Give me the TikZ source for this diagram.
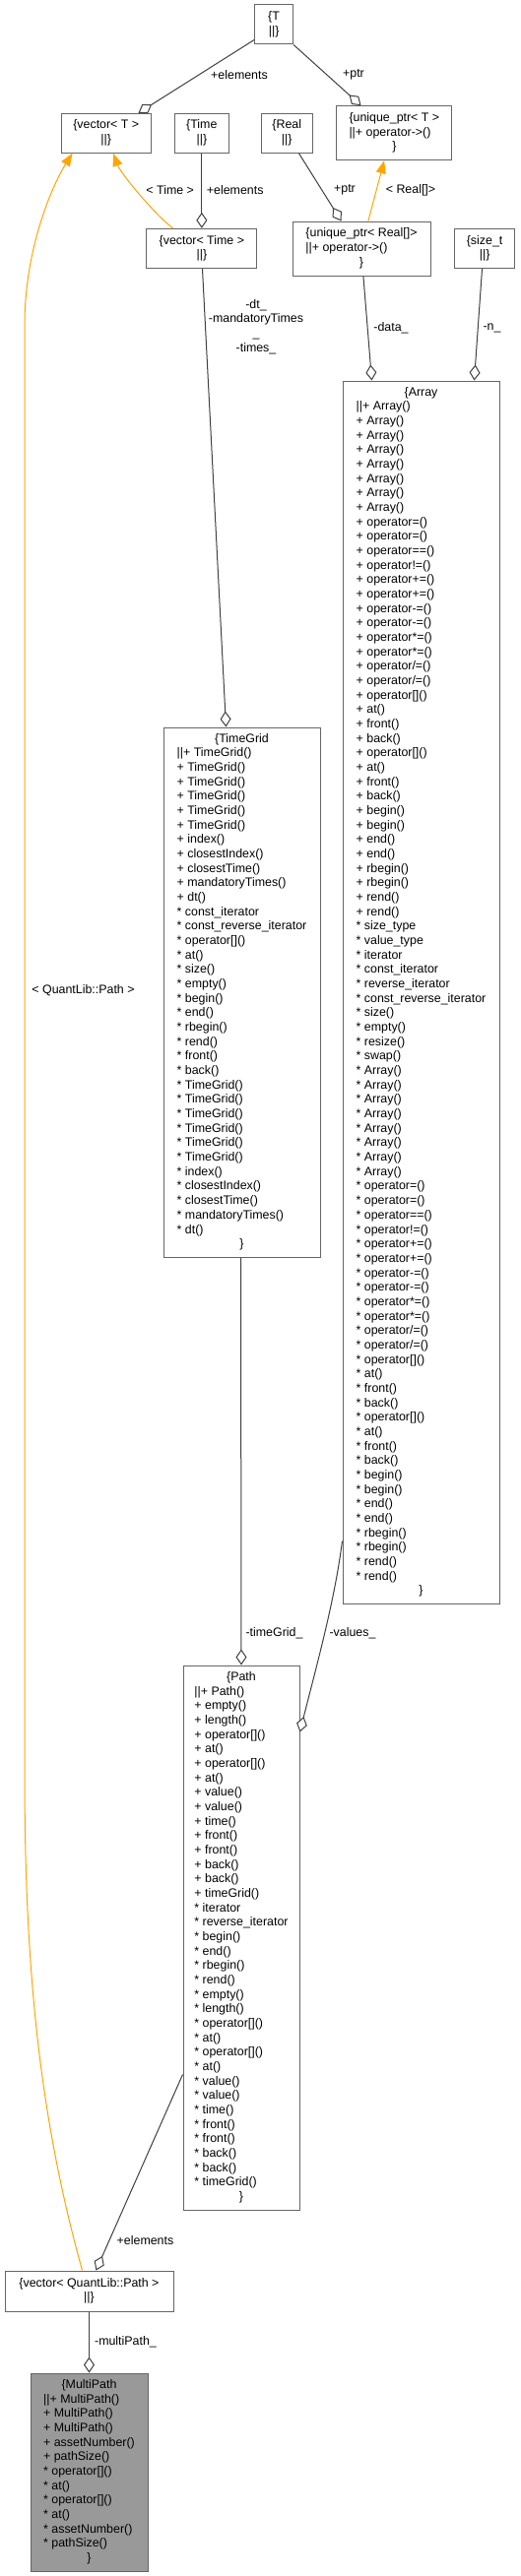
\documentclass[tikz,border=0pt]{standalone}
\usepackage{fontspec}
\setmainfont{Liberation Sans}
\usetikzlibrary{arrows.meta}
\definecolor{nodeborder}{HTML}{666666}
\definecolor{edgecol}{HTML}{404040}
\definecolor{mainfill}{HTML}{999999}
\definecolor{tmplcol}{HTML}{FFA500}
\newcommand\nl{\\\relax}
\newcommand\ttl[1]{\multicolumn{1}{@{}c@{}}{#1}}
\newcommand\diafont{\fontsize{12.4}{14.67}\selectfont}
\begin{document}
\begin{tikzpicture}[x=1pt,y=-1pt,
  cls/.style={draw=nodeborder, line width=1pt, fill=white, inner sep=0pt, font=\diafont},
  mainclass/.style={cls, fill=mainfill},
  lbl/.style={inner sep=0pt, font=\diafont, align=center},
  agg/.style={draw=edgecol, line width=1pt, -{Diamond[length=16pt,width=11pt,fill=white]}},
  tmpl/.style={draw=tmplcol, line width=1pt, -{Triangle[length=13pt,width=10pt]}}]
\fill[white] (0,0) rectangle (529,2617);
\useasboundingbox (0,0) rectangle (529,2617);

% ---------- classes ----------
\node[cls, minimum width=39pt, minimum height=40pt] (T) at (278.1,25)
  {\begin{tabular}{@{}c@{}}\{T\nl ||\}\end{tabular}};
\node[cls, minimum width=90.9pt, minimum height=40pt] (vecT) at (107.75,135.3)
  {\begin{tabular}{@{}c@{}}\{vector< T >\nl ||\}\end{tabular}};
\node[cls, minimum width=54.9pt, minimum height=40pt] (Time) at (204.85,135.3)
  {\begin{tabular}{@{}c@{}}\{Time\nl ||\}\end{tabular}};
\node[cls, minimum width=52.5pt, minimum height=40pt] (Real) at (291.25,135.3)
  {\begin{tabular}{@{}c@{}}\{Real\nl ||\}\end{tabular}};
\node[cls, minimum width=117.1pt, minimum height=55pt] (uptrT) at (400.35,135.2)
  {\begin{tabular}{@{}l@{}}\{unique\_ptr< T >\nl ||+ operator->()\\ \ttl{\}}\end{tabular}};
\node[cls, minimum width=112.1pt, minimum height=40.4pt] (vecTime) at (204.85,252.5)
  {\begin{tabular}{@{}c@{}}\{vector< Time >\nl ||\}\end{tabular}};
\node[cls, minimum width=140pt, minimum height=55pt] (uptrReal) at (367,252.5)
  {\begin{tabular}{@{}l@{}}\{unique\_ptr< Real[]>\nl ||+ operator->()\\ \ttl{\}}\end{tabular}};
\node[cls, minimum width=61.6pt, minimum height=40.4pt] (sizet) at (492.1,252.5)
  {\begin{tabular}{@{}c@{}}\{size\_t\nl ||\}\end{tabular}};

\node[cls, minimum width=159pt, minimum height=1242pt] (Array) at (427.5,1008)
  {\begin{tabular}{@{}l@{}}\ttl{\{Array}\nl
||+ Array()\nl
+ Array()\nl + Array()\nl + Array()\nl + Array()\nl + Array()\nl + Array()\nl + Array()\nl
+ operator=()\nl + operator=()\nl + operator==()\nl + operator!=()\nl
+ operator+=()\nl + operator+=()\nl + operator-=()\nl + operator-=()\nl
+ operator*=()\nl + operator*=()\nl + operator/=()\nl + operator/=()\nl
+ operator[]()\nl + at()\nl + front()\nl + back()\nl
+ operator[]()\nl + at()\nl + front()\nl + back()\nl
+ begin()\nl + begin()\nl + end()\nl + end()\nl
+ rbegin()\nl + rbegin()\nl + rend()\nl + rend()\nl
* size\_type\nl * value\_type\nl * iterator\nl * const\_iterator\nl
* reverse\_iterator\nl * const\_reverse\_iterator\nl
* size()\nl * empty()\nl * resize()\nl * swap()\nl
* Array()\nl * Array()\nl * Array()\nl * Array()\nl * Array()\nl * Array()\nl * Array()\nl * Array()\nl
* operator=()\nl * operator=()\nl * operator==()\nl * operator!=()\nl
* operator+=()\nl * operator+=()\nl * operator-=()\nl * operator-=()\nl
* operator*=()\nl * operator*=()\nl * operator/=()\nl * operator/=()\nl
* operator[]()\nl * at()\nl * front()\nl * back()\nl
* operator[]()\nl * at()\nl * front()\nl * back()\nl
* begin()\nl * begin()\nl * end()\nl * end()\nl
* rbegin()\nl * rbegin()\nl * rend()\nl * rend()\\
\ttl{\}}\end{tabular}};

\node[cls, minimum width=159pt, minimum height=538pt] (TimeGrid) at (245.5,1008)
  {\begin{tabular}{@{}l@{}}\ttl{\{TimeGrid}\nl
||+ TimeGrid()\nl
+ TimeGrid()\nl + TimeGrid()\nl + TimeGrid()\nl + TimeGrid()\nl + TimeGrid()\nl
+ index()\nl + closestIndex()\nl + closestTime()\nl + mandatoryTimes()\nl + dt()\nl
* const\_iterator\nl * const\_reverse\_iterator\nl
* operator[]()\nl * at()\nl * size()\nl * empty()\nl
* begin()\nl * end()\nl * rbegin()\nl * rend()\nl * front()\nl * back()\nl
* TimeGrid()\nl * TimeGrid()\nl * TimeGrid()\nl * TimeGrid()\nl * TimeGrid()\nl * TimeGrid()\nl
* index()\nl * closestIndex()\nl * closestTime()\nl * mandatoryTimes()\nl * dt()\\
\ttl{\}}\end{tabular}};

\node[cls, minimum width=118pt, minimum height=553pt] (Path) at (245,1968.5)
  {\begin{tabular}{@{}l@{}}\ttl{\{Path}\nl
||+ Path()\nl
+ empty()\nl + length()\nl + operator[]()\nl + at()\nl + operator[]()\nl + at()\nl
+ value()\nl + value()\nl + time()\nl + front()\nl + front()\nl + back()\nl + back()\nl
+ timeGrid()\nl
* iterator\nl * reverse\_iterator\nl * begin()\nl * end()\nl * rbegin()\nl * rend()\nl
* empty()\nl * length()\nl * operator[]()\nl * at()\nl * operator[]()\nl * at()\nl
* value()\nl * value()\nl * time()\nl * front()\nl * front()\nl * back()\nl * back()\nl
* timeGrid()\\
\ttl{\}}\end{tabular}};

\node[cls, minimum width=171pt, minimum height=41pt] (vecPath) at (90.5,2327.5)
  {\begin{tabular}{@{}c@{}}\{vector< QuantLib::Path >\nl ||\}\end{tabular}};

\node[mainclass, minimum width=119pt, minimum height=201pt] (MultiPath) at (90.5,2511.5)
  {\begin{tabular}{@{}l@{}}\ttl{\{MultiPath}\nl
||+ MultiPath()\nl + MultiPath()\nl + MultiPath()\nl + assetNumber()\nl + pathSize()\nl
* operator[]()\nl * at()\nl * operator[]()\nl * at()\nl * assetNumber()\nl * pathSize()\\
\ttl{\}}\end{tabular}};

% ---------- connectors ----------
\draw[agg] ([yshift=5pt]T.south west) -- ([xshift=78.7pt]vecT.north west);
\node[lbl] (l1) at (243,76) {+elements};
\draw[agg] (T.south east) -- ([xshift=25.2pt]uptrT.north west);
\node[lbl] (l2) at (359,76) {+ptr};

\draw[agg] (Time.south) -- (vecTime.north);
\node[lbl] (l3) at (238.7,193) {+elements};
\draw[tmpl] ([xshift=27.2pt]vecTime.north west) .. controls (155,216) and (122,175) .. ([xshift=53.2pt]vecT.south west);
\node[lbl] (l4) at (172.7,193) {< Time >};

\draw[agg] ([xshift=39pt]Real.south west) -- ([xshift=50pt]uptrReal.north west);
\node[lbl] (l5) at (350,193) {+ptr};
\draw[tmpl] ([xshift=77.4pt]uptrReal.north west) -- ([xshift=48.8pt]uptrT.south west);
\node[lbl] (l6) at (417,193) {< Real[]>};

\draw[agg] ([xshift=72.4pt]uptrReal.south west) -- ([xshift=30pt]Array.north west);
\node[lbl] (l7) at (397,333) {-data\_};
\draw[agg] ([xshift=28.7pt]sizet.south west) -- ([xshift=134pt]Array.north west);
\node[lbl] (l8) at (499.5,333) {-n\_};

\draw[agg] ([xshift=57.2pt]vecTime.south west) -- ([xshift=64pt]TimeGrid.north west);
\node[lbl] (l9) at (260,332) {-dt\_\\-mandatoryTimes\\\_\\-times\_};

\draw[agg] ([xshift=79pt]TimeGrid.south west) -- (Path.north);
\node[lbl] (l10) at (278.5,1659) {-timeGrid\_};
\draw[agg] ([yshift=64pt]Array.south west) .. controls (340,1625) and (322,1690) .. ([yshift=-68pt]Path.north east);
\node[lbl] (l11) at (358,1659) {-values\_};

\draw[agg] ([yshift=-416pt]Path.north west) -- ([xshift=93pt]vecPath.north west);
\node[lbl] (l12) at (147.5,2276) {+elements};
\draw[tmpl] ([xshift=79pt]vecPath.north west) .. controls (40,2150) and (25,2000) .. (25,1800)
   -- (25,330) .. controls (25,250) and (55,185) .. ([xshift=11.7pt]vecT.south west);
\node[lbl] (l13) at (84.5,1006) {< QuantLib::Path >};

\draw[agg] (vecPath.south) -- (MultiPath.north);
\node[lbl] (l14) at (127.5,2379) {-multiPath\_};
\end{tikzpicture}
\end{document}
